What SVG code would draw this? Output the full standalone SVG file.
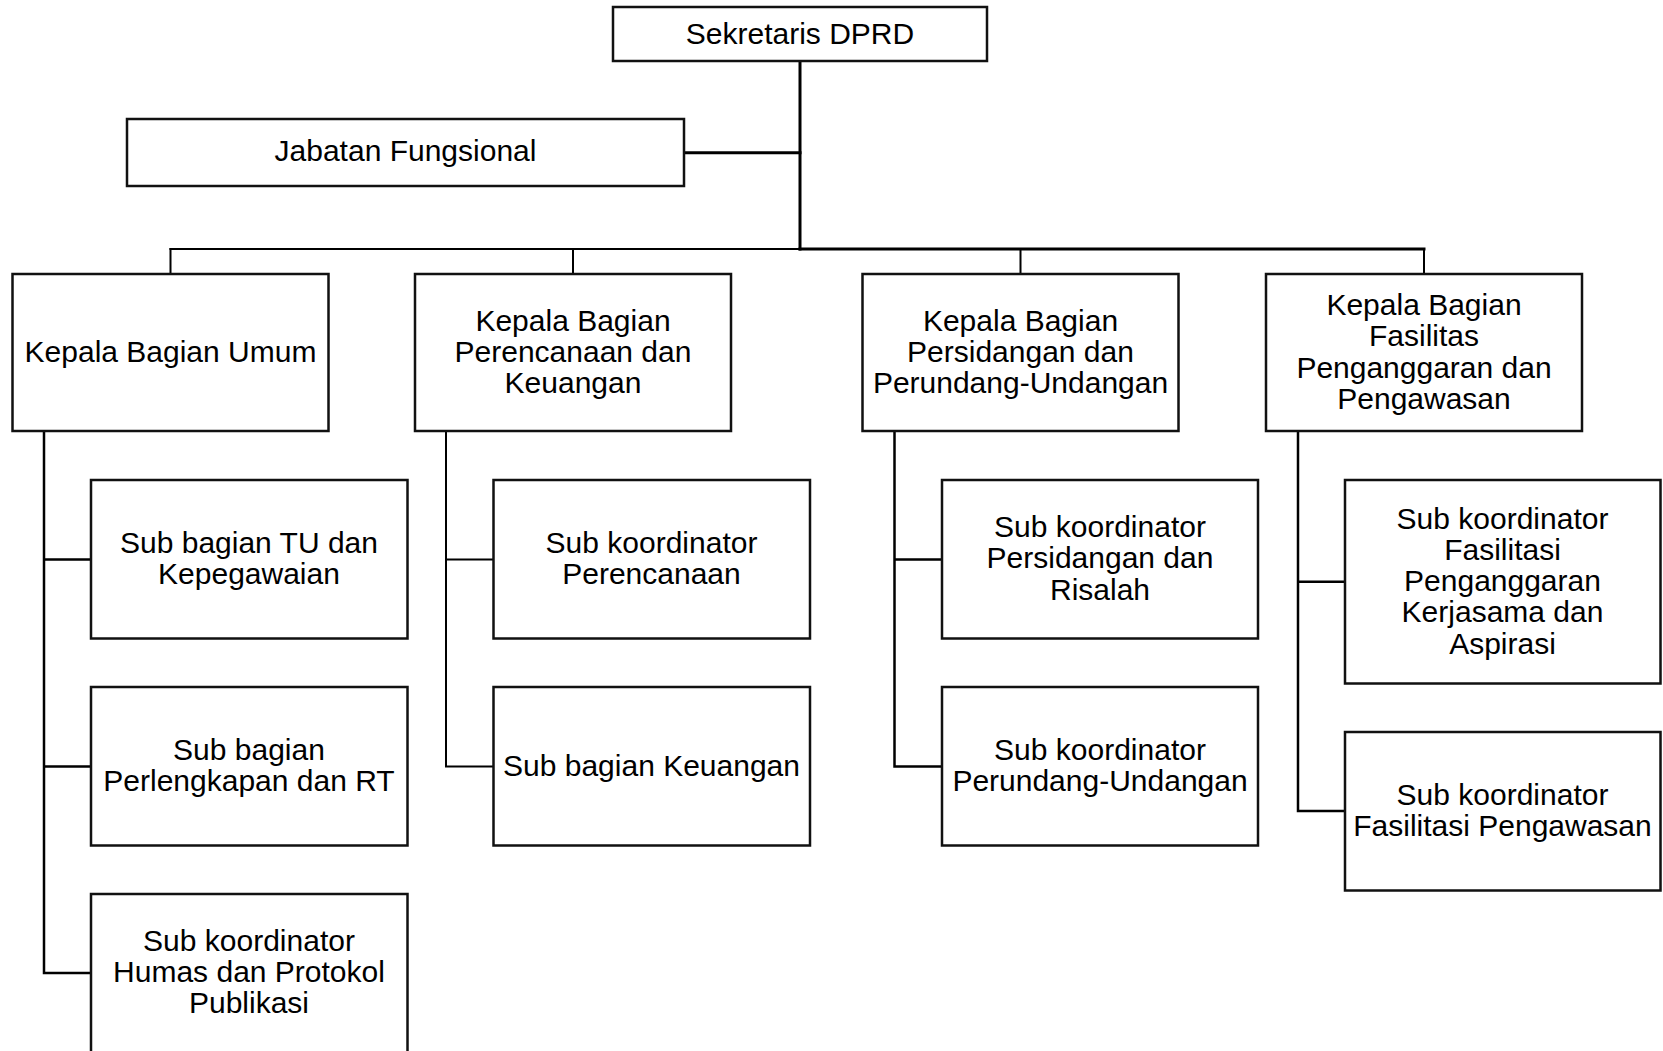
<svg xmlns="http://www.w3.org/2000/svg" width="1663" height="1051" viewBox="0 0 1663 1051">
<style>
.box{fill:#fff;stroke:#111;stroke-width:2.5}
.t{font-family:"Liberation Sans",Arial,sans-serif;font-size:30px;fill:#000;text-anchor:middle}
.c{fill:none;stroke:#000;stroke-linejoin:miter;stroke-linecap:square}
.main{stroke-width:3}
.thin{stroke-width:2}
.br{stroke-width:2.5}
</style>
<rect width="1663" height="1051" fill="#fff"/>
<g id="connectors">
<path class="c main" d="M800 61V249"/>
<path class="c main" d="M684 152.7H800"/>
<path class="c thin" d="M170.5 249H800"/>
<path class="c main" d="M800 249H1424"/>
<path class="c thin" d="M170.5 249V274M573 249V274M1020.5 249V274M1424 249V274"/>
<path class="c br" d="M44 431V973H91M44 559.5H91M44 766.5H91"/>
<path class="c thin" d="M446 431V766.5H493M446 559.5H493"/>
<path class="c br" d="M894.5 431V766.5H942M894.5 559.5H942"/>
<path class="c br" d="M1298 431V811H1345M1298 581.7H1345"/>
</g>
<g id="sekretaris"><rect class="box" x="613" y="7" width="374" height="54"/><text class="t" x="800" y="43.5">Sekretaris DPRD</text></g>
<g id="jabatan"><rect class="box" x="127" y="119" width="557" height="67"/><text class="t" x="405.5" y="160.5">Jabatan Fungsional</text></g>
<g id="kb-umum"><rect class="box" x="12.5" y="274" width="316" height="157"/><text class="t" x="170.5" y="361.5">Kepala Bagian Umum</text></g>
<g id="kb-perencanaan"><rect class="box" x="415" y="274" width="316" height="157"/><text class="t" x="573" y="330.5">Kepala Bagian<tspan x="573" dy="31.3">Perencanaan dan</tspan><tspan x="573" dy="31.3">Keuangan</tspan></text></g>
<g id="kb-persidangan"><rect class="box" x="862.5" y="274" width="316" height="157"/><text class="t" x="1020.5" y="330.5">Kepala Bagian<tspan x="1020.5" dy="31.3">Persidangan dan</tspan><tspan x="1020.5" dy="31.3">Perundang-Undangan</tspan></text></g>
<g id="kb-fasilitas"><rect class="box" x="1266" y="274" width="316" height="157"/><text class="t" x="1424" y="315">Kepala Bagian<tspan x="1424" dy="31.3">Fasilitas</tspan><tspan x="1424" dy="31.3">Penganggaran dan</tspan><tspan x="1424" dy="31.3">Pengawasan</tspan></text></g>
<g id="sb-tu"><rect class="box" x="91" y="480" width="316.5" height="158.5"/><text class="t" x="249" y="553">Sub bagian TU dan<tspan x="249" dy="31.3">Kepegawaian</tspan></text></g>
<g id="sb-perlengkapan"><rect class="box" x="91" y="687" width="316.5" height="158.5"/><text class="t" x="249" y="760">Sub bagian<tspan x="249" dy="31.3">Perlengkapan dan RT</tspan></text></g>
<g id="sk-humas"><rect class="box" x="91" y="894" width="316.5" height="162"/><text class="t" x="249" y="950.5">Sub koordinator<tspan x="249" dy="31">Humas dan Protokol</tspan><tspan x="249" dy="31">Publikasi</tspan></text></g>
<g id="sk-perencanaan"><rect class="box" x="493.5" y="480" width="316.5" height="158.5"/><text class="t" x="651.5" y="553">Sub koordinator<tspan x="651.5" dy="31.3">Perencanaan</tspan></text></g>
<g id="sb-keuangan"><rect class="box" x="493.5" y="687" width="316.5" height="158.5"/><text class="t" x="651.5" y="776">Sub bagian Keuangan</text></g>
<g id="sk-persidangan"><rect class="box" x="942" y="480" width="316" height="158.5"/><text class="t" x="1100" y="537">Sub koordinator<tspan x="1100" dy="31.3">Persidangan dan</tspan><tspan x="1100" dy="31.3">Risalah</tspan></text></g>
<g id="sk-perundang"><rect class="box" x="942" y="687" width="316" height="158.5"/><text class="t" x="1100" y="760">Sub koordinator<tspan x="1100" dy="31.3">Perundang-Undangan</tspan></text></g>
<g id="sk-penganggaran"><rect class="box" x="1345" y="480" width="315.5" height="203.5"/><text class="t" x="1502.5" y="528.5">Sub koordinator<tspan x="1502.5" dy="31.3">Fasilitasi</tspan><tspan x="1502.5" dy="31.3">Penganggaran</tspan><tspan x="1502.5" dy="31.3">Kerjasama dan</tspan><tspan x="1502.5" dy="31.3">Aspirasi</tspan></text></g>
<g id="sk-pengawasan"><rect class="box" x="1345" y="732" width="315.5" height="158.5"/><text class="t" x="1502.5" y="805">Sub koordinator<tspan x="1502.5" dy="31.3">Fasilitasi Pengawasan</tspan></text></g>
</svg>
